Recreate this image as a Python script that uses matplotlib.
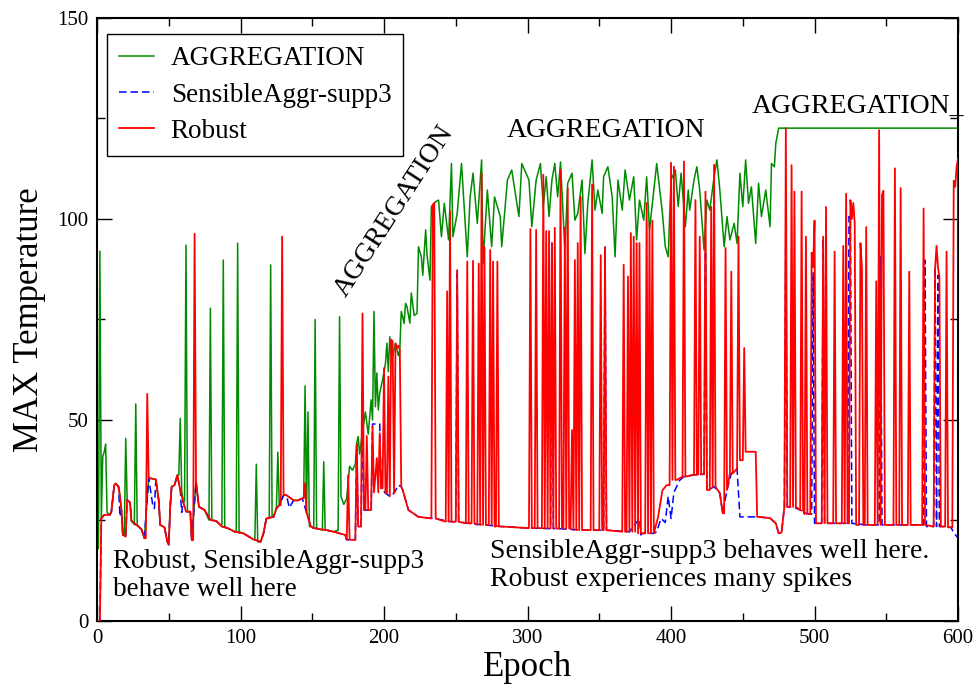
import numpy as np
import matplotlib
matplotlib.use('Agg')
import matplotlib.pyplot as plt
from matplotlib.ticker import MultipleLocator

plt.rcParams['font.family'] = ['Liberation Serif', 'DejaVu Serif']

# Baseline shared by Robust and SensibleAggr-supp3 (and AGGREGATION before epoch 170)
base_x = [3, 5, 9, 10, 12, 13, 15, 16, 17, 18, 20, 21, 23, 24, 27, 31, 33, 36, 41, 43,
          44, 47, 49, 50, 51, 52, 54, 56, 58, 60, 62, 65, 66, 69, 71, 75, 79, 83, 87, 91,
          96, 102, 109, 114, 116, 118, 123, 125, 127, 130, 132, 137, 140, 143, 146, 149,
          151, 160, 165, 173,
          213, 217, 224, 235, 247, 259, 270, 282, 301, 320, 340, 371, 380, 386,
          409, 415, 422, 426, 430, 434, 436, 439, 442, 446,
          461, 469, 473, 475, 477, 479, 485, 490, 495, 502, 520, 536, 564, 590, 595]
base_y = [25.5, 26.4, 26.4, 27.2, 33.8, 34.2, 33.4, 31, 27.6, 21.4, 21, 30.1, 29.5, 24.9,
          24, 22.8, 20.6, 35.6, 35.2, 30, 23.9, 23.3, 19.7, 19, 28.4, 33.4, 33.8, 36.3,
          32.6, 29.7, 27.2, 27.2, 20.1, 34.6, 28.4, 27.6, 25.1, 24.9, 23.5, 23.1, 22.2,
          21.8, 20.3, 19.7, 21.8, 25.5, 25.9, 28, 28.8, 31.3, 31.3, 30, 30, 30.5, 27,
          23.5, 23.1, 22.6, 22.2, 21.4,
          32.6, 27.6, 25.9, 25.5, 24.7, 24.3, 23.9, 23.5, 23.1, 23, 22.6, 22.2, 21.8, 21.8,
          35.9, 36.3, 36.5, 32.6, 33.4, 31.8, 26.8, 32.6, 36.7, 37.9,
          25.9, 25.6, 24.3, 21.8, 22, 28.4, 28.4, 27.6, 26.6, 24.3, 24.3, 23.9, 23.9, 23.5, 23.3]

# Robust: own points where it leaves the shared baseline
robust_x = [0, 2, 174, 175, 176, 180, 181, 182, 184, 185, 186, 187, 188, 189, 191, 192, 193,
            195, 196, 197, 198, 199, 200, 201, 202, 203, 204, 205, 206, 207, 208, 209, 210,
            211, 212, 388, 391, 394, 397, 404, 449, 452, 459, 460]
robust_y = [0, 0, 20.2, 36.3, 20.2, 20.2, 44, 23.5, 23.5, 76.5, 27.6, 27.6, 46, 27.6, 27.6,
            48.4, 32, 40.5, 32, 46.7, 33, 33, 62.9, 31.8, 31.8, 60.8, 31, 70, 69.5, 31.8,
            69, 68, 68.5, 67.4, 33.4, 21.8, 25.9, 32.5, 33.8, 35.1, 40, 42.1, 42.1, 25.9]
robust_spike_x = [35, 68, 129, 145, 234, 235, 244, 246, 251, 258, 262, 266, 268, 270, 274,
                  276, 279, 302, 306, 311, 313, 315, 317, 319, 323, 326, 328, 331, 333, 335,
                  337, 345, 351, 354, 367, 370, 372, 374, 376, 378, 383, 385, 387, 400, 402,
                  409, 417, 420, 424, 428, 430, 438, 442, 447, 451, 480, 484, 486, 491, 494,
                  498, 499, 500, 506, 508, 514, 520, 522, 525, 526, 527, 528, 532, 533, 536,
                  543, 545, 547, 548, 556, 560, 566, 576, 584, 585, 586, 587, 592, 597, 598,
                  599, 600]
robust_spike_y = [56.5, 96.3, 95.6, 34.3, 103.5, 104, 82, 102, 87.3, 89.4, 89.6, 88.9, 111.4,
                  93, 92.3, 89.4, 89.4, 97.5, 97.3, 111, 97, 97, 94, 97.8, 112.2, 97.8, 107.7,
                  47.5, 89.8, 94, 105.5, 108.6, 91, 93, 88.6, 85.7, 96.5, 95.6, 94, 94, 104,
                  99, 99.6, 114, 113, 114.3, 104.7, 95.6, 106.8, 103, 113.5, 92.8, 86.9, 95.6,
                  67.9, 122.6, 113.4, 106.8, 106.8, 95.6, 91.6, 88, 99.6, 95.6, 103, 91.9,
                  93.3, 106.3, 104.7, 100, 104, 99, 94, 88, 98, 84.5, 122.1, 106, 107, 112.6,
                  107.7, 86.9, 102.6, 87.6, 93.3, 88, 85.7, 91.9, 109.5, 108, 113, 115]

# SensibleAggr-supp3
sensible_x = [0, 2, 16, 39, 40, 59, 134, 174, 176, 180, 181, 182, 184, 185, 186, 191, 192,
              197, 198, 201, 204, 207, 210, 212, 378, 379, 388, 390, 393, 396, 398, 400, 402,
              406, 448, 452, 459, 460, 597, 600]
sensible_y = [0, 0, 26, 28.4, 28, 27, 28.2, 20.2, 20.2, 20.2, 44, 23.5, 23.5, 53, 27.6, 27.6,
              49, 49, 33, 31.8, 31, 31.8, 33.8, 33.4, 25.5, 21.4, 21.8, 22.2, 25.5, 24.5, 31,
              25.5, 32, 35, 25.9, 25.9, 25.9, 25.9, 22, 20.6]
sensible_spike_x = [251, 317, 354, 424, 480, 499, 506, 524, 525, 546, 577, 584, 586]
sensible_spike_y = [87.3, 94, 93, 92, 100, 86.6, 95, 100.6, 100, 90.6, 89.8, 88, 86]

# AGGREGATION
aggr_x = [0, 4, 5, 6, 7, 167, 170, 172, 174, 176, 178, 180, 181, 182, 183, 185, 187, 189,
          191, 192, 193, 194, 195, 196, 197, 199, 201, 202, 203, 204, 205, 206, 208, 210,
          211, 212, 213, 214, 215, 216, 218, 219, 221, 223, 224, 226, 227, 229, 230, 232,
          233, 236, 238, 240, 242, 245, 247, 248, 251, 254, 258, 260, 262, 265, 268, 269,
          272, 275, 277, 281, 282, 286, 289, 294, 296, 301, 303, 306, 309, 311, 313, 315,
          317, 319, 321, 323, 325, 326, 328, 331, 333, 335, 338, 340, 342, 345, 347, 349,
          352, 353, 356, 359, 361, 363, 366, 368, 371, 374, 376, 378, 381, 383, 385, 388,
          390, 394, 396, 398, 400, 403, 405, 407, 410, 412, 413, 416, 418, 420, 423, 425,
          427, 430, 432, 434, 437, 439, 441, 444, 446, 448, 450, 452, 454, 456, 459, 461,
          463, 466, 469, 470, 472, 473, 475, 600]
aggr_y = [18, 41, 42, 44, 27, 22.5, 31, 29, 30.5, 38.5, 37.5, 39, 44.3, 45.9, 41.5, 47, 52,
          46.5, 55, 50, 77, 53.3, 61.7, 52.5, 56.7, 60, 64.1, 69.1, 62, 70.7, 66, 65.8,
          69.1, 66, 67.4, 77, 75.7, 74, 79, 78.2, 74.1, 81.6, 76, 76.5, 93.1, 90.6, 86,
          97.3, 91, 84.8, 103.1, 104.3, 104.7, 95.6, 103.9, 94.8, 113.8, 95.6, 101.4, 113.8,
          90.6, 105.5, 111.4, 98.9, 114.7, 88.9, 107.2, 93.1, 105.5, 100.6, 93.1, 109.7,
          112.2, 100.6, 113.8, 109.7, 98.1, 109.7, 113.8, 103.1, 110.5, 100.6, 109.7, 113.8,
          105.5, 114.2, 99.7, 92.3, 108.9, 111.4, 99.7, 101.4, 109.7, 91.4, 103.9, 114.7,
          102.2, 107.2, 101.4, 110.5, 113, 105.5, 90.6, 109.7, 102.2, 112.2, 104.7, 110.5,
          94.8, 104.7, 99.7, 110.5, 97.3, 107.2, 113.8, 101.4, 93.1, 90.6, 109.7, 112.2,
          103.1, 111.4, 98.1, 107.2, 102.2, 109.7, 113, 107.2, 92.3, 104.7, 102.2, 110.5,
          114.7, 107.2, 93.1, 100.6, 94.8, 98.9, 93.9, 111.4, 103.1, 114.7, 103.9, 108,
          93.9, 108.9, 100.6, 107.2, 98.1, 113.8, 113, 118.8, 122.6, 122.6]
aggr_spike_x = [2, 20, 27, 58, 62, 79, 88, 98, 111, 121, 126, 145, 147, 152, 158, 169]
aggr_spike_y = [92, 45.4, 54, 50.4, 93.5, 77.8, 89.8, 94, 39, 88.6, 42, 58.5, 52, 75, 39.6,
                75.7]


def build(base, own_x, own_y, spk_x, spk_y):
    # base points, then the series' own points, then one-epoch spikes
    pts = dict(base)
    pts.update(zip(own_x, own_y))
    keys = np.array(sorted(pts))
    spikes = dict(zip(spk_x, spk_y))
    shoulders = {}
    for e in spk_x:
        for s in (e - 1, e + 1):
            if s not in spikes and s not in pts:
                near = keys[np.abs(keys - s).argmin()]
                shoulders[s] = pts[near]
    pts.update(shoulders)
    pts.update(spikes)
    xs = sorted(pts)
    return xs, [pts[x] for x in xs]


shared = list(zip(base_x, base_y))
rx, ry = build(shared, robust_x, robust_y, robust_spike_x, robust_spike_y)
sx, sy = build(shared, sensible_x, sensible_y, sensible_spike_x, sensible_spike_y)
gx, gy = build([p for p in shared if p[0] < 170], aggr_x, aggr_y, aggr_spike_x, aggr_spike_y)

fig = plt.figure(figsize=(9.77, 6.89), dpi=100)
ax = fig.add_axes([0.0993, 0.0987, 0.8813, 0.8752])

ax.plot(gx, gy, color='#008b00', linewidth=1.1, label='AGGREGATION', zorder=2)
ax.plot(sx, sy, color='#0000ff', linewidth=1.1, dashes=(5, 2.5),
        label='SensibleAggr-supp3', zorder=3)
ax.plot(rx, ry, color='#ff0000', linewidth=1.3, label='Robust', zorder=4)

ax.set_xlim(0, 600)
ax.set_ylim(0, 150)
ax.xaxis.set_major_locator(MultipleLocator(100))
ax.xaxis.set_minor_locator(MultipleLocator(50))
ax.yaxis.set_major_locator(MultipleLocator(50))
ax.yaxis.set_minor_locator(MultipleLocator(25))
ax.tick_params(which='both', direction='in', top=True, right=True, width=1.0)
ax.tick_params(which='major', length=11, labelsize=15, pad=6)
ax.tick_params(which='minor', length=6)
for sp in ax.spines.values():
    sp.set_linewidth(1.5)

ax.set_xlabel('Epoch', fontsize=25, labelpad=2)
ax.set_ylabel('MAX Temperature', fontsize=25, labelpad=8)

leg = ax.legend(loc='upper left', bbox_to_anchor=(0.0116, 0.9735), fontsize=19.5,
                frameon=True, fancybox=False, edgecolor='black', framealpha=1,
                borderaxespad=0, handlelength=1.3, handletextpad=0.6,
                labelspacing=0.42, borderpad=0.45)
leg.get_frame().set_linewidth(1.0)

ax.text(355, 122, 'AGGREGATION', fontsize=20, ha='center', va='center')
ax.text(456, 128, 'AGGREGATION_', fontsize=20, ha='left', va='center')
ax.text(207, 102, 'AGGREGATION', fontsize=20, ha='center', va='center', rotation=57)
ax.text(11, 18, 'Robust, SensibleAggr-supp3\nbehave well here', fontsize=19.5,
        ha='left', va='top', linespacing=1.2)
ax.text(274, 20.5, 'SensibleAggr-supp3 behaves well here.\nRobust experiences many spikes',
        fontsize=20, ha='left', va='top', linespacing=1.2)

fig.savefig('out.png', dpi=100)
